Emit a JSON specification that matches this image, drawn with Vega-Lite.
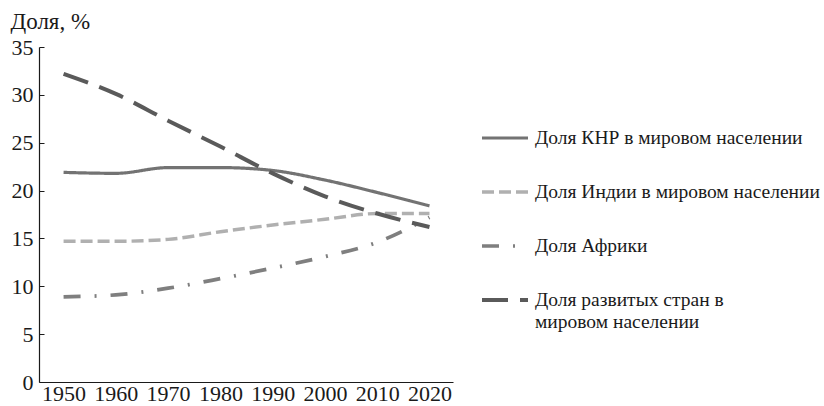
{
  "$schema": "https://vega.github.io/schema/vega-lite/v6.json",
  "width": 414,
  "height": 335,
  "autosize": {"type": "none"},
  "padding": {"left": 39, "top": 47, "right": 371, "bottom": 24},
  "background": "white",
  "config": {
    "view": {"stroke": null},
    "font": "Liberation Serif"
  },
  "data": {
    "values": [
      {"year": 1950, "series": "Доля КНР в мировом населении", "value": 21.9},
      {"year": 1960, "series": "Доля КНР в мировом населении", "value": 21.8},
      {"year": 1970, "series": "Доля КНР в мировом населении", "value": 22.4},
      {"year": 1980, "series": "Доля КНР в мировом населении", "value": 22.4},
      {"year": 1990, "series": "Доля КНР в мировом населении", "value": 22.1},
      {"year": 2000, "series": "Доля КНР в мировом населении", "value": 21.1},
      {"year": 2010, "series": "Доля КНР в мировом населении", "value": 19.8},
      {"year": 2020, "series": "Доля КНР в мировом населении", "value": 18.4},
      {"year": 1950, "series": "Доля Индии в мировом населении", "value": 14.7},
      {"year": 1960, "series": "Доля Индии в мировом населении", "value": 14.7},
      {"year": 1970, "series": "Доля Индии в мировом населении", "value": 14.9},
      {"year": 1980, "series": "Доля Индии в мировом населении", "value": 15.7},
      {"year": 1990, "series": "Доля Индии в мировом населении", "value": 16.4},
      {"year": 2000, "series": "Доля Индии в мировом населении", "value": 17.0},
      {"year": 2010, "series": "Доля Индии в мировом населении", "value": 17.6},
      {"year": 2020, "series": "Доля Индии в мировом населении", "value": 17.6},
      {"year": 1950, "series": "Доля Африки", "value": 8.9},
      {"year": 1960, "series": "Доля Африки", "value": 9.1},
      {"year": 1970, "series": "Доля Африки", "value": 9.8},
      {"year": 1980, "series": "Доля Африки", "value": 10.8},
      {"year": 1990, "series": "Доля Африки", "value": 11.9},
      {"year": 2000, "series": "Доля Африки", "value": 13.1},
      {"year": 2010, "series": "Доля Африки", "value": 14.6},
      {"year": 2020, "series": "Доля Африки", "value": 17.2},
      {"year": 1950, "series": "Доля развитых стран в мировом населении", "value": 32.2},
      {"year": 1960, "series": "Доля развитых стран в мировом населении", "value": 30.1},
      {"year": 1970, "series": "Доля развитых стран в мировом населении", "value": 27.3},
      {"year": 1980, "series": "Доля развитых стран в мировом населении", "value": 24.6},
      {"year": 1990, "series": "Доля развитых стран в мировом населении", "value": 21.8},
      {"year": 2000, "series": "Доля развитых стран в мировом населении", "value": 19.4},
      {"year": 2010, "series": "Доля развитых стран в мировом населении", "value": 17.6},
      {"year": 2020, "series": "Доля развитых стран в мировом населении", "value": 16.2}
    ]
  },
  "mark": {"type": "line", "interpolate": "monotone"},
  "encoding": {
    "x": {
      "field": "year",
      "type": "quantitative",
      "scale": {"domain": [1945.3, 2024.5], "nice": false, "zero": false},
      "axis": {
        "values": [1950, 1960, 1970, 1980, 1990, 2000, 2010, 2020],
        "format": "d",
        "title": null,
        "grid": false,
        "ticks": false,
        "labelFontSize": 22,
        "labelColor": "#1a1a1a",
        "labelPadding": 1,
        "labelFlush": false,
        "labelOverlap": false,
        "domainColor": "#1a1a1a",
        "domainWidth": 1.2
      }
    },
    "y": {
      "field": "value",
      "type": "quantitative",
      "scale": {"domain": [0, 35], "nice": false},
      "axis": {
        "values": [0, 5, 10, 15, 20, 25, 30, 35],
        "title": "Доля, %",
        "titleAngle": 0,
        "titleAlign": "left",
        "titleBaseline": "alphabetic",
        "titleX": -29,
        "titleY": -19,
        "titleFontSize": 23,
        "titleFontWeight": "normal",
        "titleColor": "#1a1a1a",
        "grid": false,
        "tickSize": -5,
        "tickColor": "#1a1a1a",
        "labelFontSize": 22,
        "labelColor": "#1a1a1a",
        "labelPadding": 11,
        "labelFlush": false,
        "domainColor": "#1a1a1a",
        "domainWidth": 1.2
      }
    },
    "color": {
      "field": "series",
      "type": "nominal",
      "sort": ["Доля КНР в мировом населении", "Доля Индии в мировом населении", "Доля Африки", "Доля развитых стран в мировом населении"],
      "scale": {
        "domain": ["Доля КНР в мировом населении", "Доля Индии в мировом населении", "Доля Африки", "Доля развитых стран в мировом населении"],
        "range": ["#737373", "#b0b0b0", "#7f7f7f", "#5a5a5a"]
      },
      "legend": {
        "title": null,
        "orient": "none",
        "legendX": 441,
        "legendY": 66,
        "symbolType": "stroke",
        "symbolSize": 2116,
        "symbolStrokeWidth": 4,
        "labelFontSize": 19.5,
        "labelColor": "#1a1a1a",
        "labelOffset": 5,
        "labelLimit": 400,
        "rowPadding": 19,
        "labelExpr": "datum.label == 'Доля развитых стран в мировом населении' ? ['Доля развитых стран в', 'мировом населении'] : datum.label"
      }
    },
    "strokeDash": {
      "field": "series",
      "type": "nominal",
      "sort": ["Доля КНР в мировом населении", "Доля Индии в мировом населении", "Доля Африки", "Доля развитых стран в мировом населении"],
      "scale": {
        "domain": ["Доля КНР в мировом населении", "Доля Индии в мировом населении", "Доля Африки", "Доля развитых стран в мировом населении"],
        "range": [[1, 0], [12, 5], [17, 14, 2, 14], [26, 12]]
      },
      "legend": null
    },
    "strokeWidth": {
      "field": "series",
      "type": "nominal",
      "scale": {
        "domain": ["Доля КНР в мировом населении", "Доля Индии в мировом населении", "Доля Африки", "Доля развитых стран в мировом населении"],
        "range": [3.2, 4, 4, 4]
      },
      "legend": null
    }
  }
}
